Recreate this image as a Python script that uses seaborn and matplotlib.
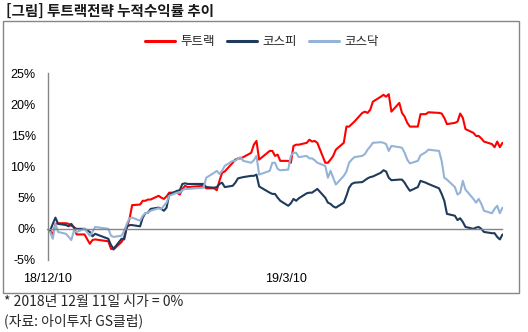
import numpy as np
import pandas as pd
import matplotlib
matplotlib.use("Agg")
import matplotlib.pyplot as plt
import seaborn as sns
from matplotlib.patches import Rectangle
from matplotlib.lines import Line2D

# ---------------- data ----------------
series_names = ["투트랙", "코스피", "코스닥"]
colors = ["#FF0000", "#203A5C", "#95B3D7"]

holidays = ["2018-12-25", "2018-12-31", "2019-01-01", "2019-02-04", "2019-02-05",
            "2019-02-06", "2019-03-01", "2019-05-01", "2019-05-06"]
dates = pd.bdate_range("2018-12-11", "2019-05-31")
dates = dates[~dates.isin(pd.to_datetime(holidays))]

twotrack = [-0.3, -1.0, 0.8, 0.9, 0.9, 0.8, 0.5, 0.3, -0.9, -0.9, -2.4, -1.8, -1.7,
            -2.0, -3.2, -3.3, -2.1, -1.3, 0.3, 1.6, 3.8, 3.9, 4.5, 4.5, 4.7, 4.7,
            5.3, 5.0, 4.8, 5.2, 5.8, 5.8, 5.5, 6.4, 6.9, 6.7,
            6.9, 6.5, 6.5, 6.2, 7.7, 9.0, 9.2, 10.6, 11.1, 11.3, 11.3, 11.5, 12.2, 13.5, 14.1, 11.1,
            12.5, 12.5, 11.7, 11.9, 10.9, 10.9, 10.6, 13.3, 13.5, 13.5, 13.8, 14.3, 14.0, 14.1, 13.8,
            10.6, 10.6, 11.1, 11.7, 12.7,
            13.8, 16.4, 16.4, 16.8, 17.2, 18.6, 18.8, 18.6, 19.1, 20.4, 21.2, 21.5, 21.2, 21.6, 18.8,
            20.2, 18.6, 18.0, 17.0, 16.4, 16.4, 18.4,
            18.4, 18.7, 18.6, 18.5, 17.8, 16.8, 17.0, 17.2, 18.5, 17.8, 16.0,
            15.4, 14.9, 14.9, 14.5, 14.0, 13.6, 13.1, 14.0, 13.1, 13.8]

kospi = [-0.3, 0.8, 1.8, 0.8, 0.6, 0.4, 0.8, 0.2, 0.0, 0.0, -0.5, -1.2, -0.8,
         -1.6, -2.6, -3.2, -1.6, -1.7, 0.3, 0.6, 0.6, 0.4, 1.8, 2.5, 2.6, 3.2,
         3.4, 3.2, 2.9, 3.4, 5.5, 6.1, 6.2, 7.2, 7.3, 7.2,
         7.2, 6.7, 6.6, 6.7, 7.2, 7.4, 6.7, 6.9, 7.4, 8.1, 8.2, 8.3, 8.5, 8.5, 8.7, 6.8,
         5.8, 5.6, 5.6, 5.0, 4.5, 3.7, 4.1, 4.8, 4.5, 4.9, 5.7, 5.8, 5.8, 6.1, 6.4,
         5.0, 4.2, 4.0, 3.6, 3.4,
         4.2, 5.3, 6.6, 7.2, 7.4, 7.5, 7.8, 8.1, 8.3, 8.4, 9.0, 9.4, 9.2, 8.2, 7.8,
         7.9, 7.9, 7.4, 6.7, 6.1, 6.7, 7.7,
         7.4, 7.2, 6.5, 5.6, 4.5, 2.4, 2.1, 1.4, 1.7, 1.1, 0.3,
         0.0, 0.2, 0.3, 0.0, -0.5, -0.7, -0.7, -1.3, -1.7, -0.9]

kosdaq = [-0.5, -1.6, 0.8, -0.5, -0.8, -1.3, -1.8, -0.3, -0.5, 0.0, -1.1, -0.5, 0.3,
          0.0, -1.1, -1.3, -1.1, -0.3, 0.8, 1.7, 1.8, 1.3, 2.1, 2.5, 2.6, 2.9,
          3.3, 3.2, 3.7, 4.2, 5.3, 5.8, 5.8, 6.2, 6.4, 6.4,
          6.6, 8.2, 9.0, 9.3, 8.8, 9.3, 10.1, 10.9, 10.9, 11.3, 11.5, 10.9, 10.6, 11.0, 11.7, 8.7,
          9.3, 10.6, 10.6, 9.6, 9.4, 9.5, 11.7, 12.2, 12.2, 11.5, 11.7, 11.3, 11.3, 11.0, 10.6,
          10.1, 8.2, 9.3, 8.2, 7.1,
          8.5, 9.2, 10.6, 11.1, 11.5, 11.7, 12.0, 12.7, 13.2, 13.8, 13.9, 13.8, 13.6, 12.5, 13.3,
          13.1, 13.0, 12.2, 11.1, 10.5, 10.9, 11.8,
          12.3, 12.7, 12.5, 10.9, 8.2, 7.9, 6.7, 5.5, 5.8, 7.7, 6.3,
          4.8, 4.2, 4.8, 4.0, 2.9, 2.5, 3.2, 3.7, 2.5, 3.4]

yticks = [-5, 0, 5, 10, 15, 20, 25]
xtick_dates = ["2018-12-10", "2019-03-10"]
xtick_labels = ["18/12/10", "19/3/10"]
x_range = ["2018-12-10", "2019-05-31"]

title = "[그림] 투트랙전략 누적수익률 추이"
notes = ["* 2018년 12월 11일 시가 = 0%", "(자료: 아이투자 GS클럽)"]

# ---------------- plot ----------------
sns.set_style("white")
plt.rcParams["font.family"] = ["Noto Sans CJK KR", "DejaVu Sans"]

df = pd.DataFrame({
    "date": np.tile(dates.values, 3),
    "value": twotrack + kospi + kosdaq,
    "series": np.repeat(series_names, len(dates)),
})

W, H = 528, 332
fig = plt.figure(figsize=(W / 100, H / 100), dpi=100)
fig.patch.set_facecolor("white")

# outer frame
fig.patches.append(Rectangle((3 / W, 1 - 293 / H), 516 / W, 272 / H,
                             transform=fig.transFigure, fill=False,
                             edgecolor="#868686", linewidth=1.0))

ax = fig.add_axes([47.5 / W, 1 - 260 / H, 455 / W, 187 / H])
sns.lineplot(data=df, x="date", y="value", hue="series", hue_order=series_names,
             palette=colors, linewidth=1.5, ax=ax, legend=False)

ax.set_xlim(pd.to_datetime(x_range[0]), pd.to_datetime(x_range[1]))
ax.set_ylim(-5, 25)
ax.set_yticks(yticks)
ax.set_yticklabels([f"{v}%" for v in yticks])
ax.set_xticks(pd.to_datetime(xtick_dates))
ax.set_xticklabels(xtick_labels)
ax.set_xlabel("")
ax.set_ylabel("")

for s in ["top", "right"]:
    ax.spines[s].set_visible(False)
ax.spines["left"].set_color("#868686")
ax.spines["bottom"].set_color("#868686")
ax.spines["bottom"].set_position(("data", 0))
ax.spines["left"].set_linewidth(1.0)
ax.spines["bottom"].set_linewidth(1.0)
ax.tick_params(axis="y", direction="out", length=5.5, width=1, color="#868686", pad=3,
               labelsize=9, labelfontfamily="Liberation Sans", labelcolor="black")
ax.tick_params(axis="x", direction="out", length=4, width=1, color="#868686", pad=28,
               labelsize=9, labelfontfamily="Liberation Sans", labelcolor="black")
ax.set_facecolor("none")

handles = [Line2D([], [], color=c, linewidth=2.2) for c in colors]
fig.legend(handles, series_names, loc="center", bbox_to_anchor=(262 / W, 1 - 42 / H),
           ncol=3, frameon=False, fontsize=9, handlelength=2.4,
           handletextpad=0.4, columnspacing=1.0)

fig.text(6 / W, 1 - 11 / H, title, fontsize=10.5, fontweight="bold", ha="left",
         va="center", color="#1a1a1a")
fig.text(4 / W, 1 - 302 / H, notes[0], fontsize=10, ha="left", va="center")
fig.text(4 / W, 1 - 321 / H, notes[1], fontsize=10, ha="left", va="center")

fig.savefig("out.png", dpi=100)
